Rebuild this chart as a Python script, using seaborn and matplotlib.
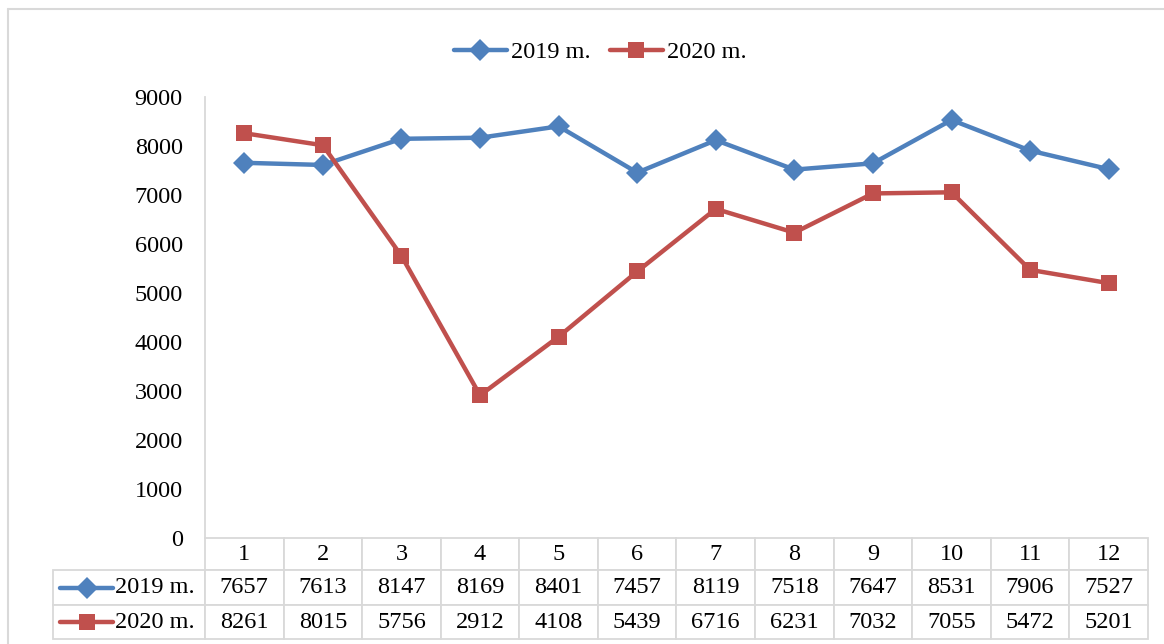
import pandas as pd
import seaborn as sns
import matplotlib.pyplot as plt
from matplotlib.table import Table
from matplotlib.lines import Line2D

sns.set_theme(style="white")
plt.rcParams['font.family'] = ['Liberation Serif', 'DejaVu Serif']
plt.rcParams['text.color'] = 'black'
plt.rcParams['ytick.color'] = 'black'
plt.rcParams['xtick.color'] = 'black'

# Data
months = [1, 2, 3, 4, 5, 6, 7, 8, 9, 10, 11, 12]
series_names = ["2019 m.", "2020 m."]
vals_2019 = [7657, 7613, 8147, 8169, 8401, 7457, 8119, 7518, 7647, 8531, 7906, 7527]
vals_2020 = [8261, 8015, 5756, 2912, 4108, 5439, 6716, 6231, 7032, 7055, 5472, 5201]
y_ticks = [0, 1000, 2000, 3000, 4000, 5000, 6000, 7000, 8000, 9000]

colors = {"2019 m.": "#4f81bd", "2020 m.": "#c0504d"}
markers = {"2019 m.": "D", "2020 m.": "s"}
grid_col = "#d9d9d9"
fs = 17.5
lw = 3.2
ms = 11.5

df = pd.DataFrame({
    "month": months * 2,
    "value": vals_2019 + vals_2020,
    "series": [series_names[0]] * 12 + [series_names[1]] * 12,
})

W, H = 1164, 644
fig = plt.figure(figsize=(W / 100, H / 100), dpi=100)
ax = fig.add_axes([205 / W, (H - 538) / H, 943 / W, 441 / H])

sns.lineplot(data=df, x="month", y="value", hue="series", style="series",
             palette=colors, markers=markers, dashes=False, linewidth=lw,
             markersize=ms, markeredgewidth=0, ax=ax)

ax.set_xlim(0.5, 12.5)
ax.set_ylim(0, 9000)
ax.set_yticks(y_ticks)
ax.set_yticklabels([str(t) for t in y_ticks], fontsize=fs, color="black")
ax.set_xticks([])
ax.set(xlabel="", ylabel="")
ax.tick_params(axis="y", length=0, pad=16)
for s in ["top", "right", "bottom"]:
    ax.spines[s].set_visible(False)
ax.spines["left"].set_color(grid_col)
ax.spines["left"].set_linewidth(1.3)

# legend on top
h, l = ax.get_legend_handles_labels()
leg = ax.legend(h, l, loc="center", bbox_to_anchor=(600 / W, 1 - 52 / H),
                bbox_transform=fig.transFigure, ncol=2, frameon=False,
                fontsize=fs, handlelength=2.2, handletextpad=0.15,
                columnspacing=0.8)
for t in leg.get_texts():
    t.set_color("black")

# data table below the axis
x0 = (53 - 205) / 943
tw = (1148 - 53) / 943
row_h = [32, 35, 34]
th = sum(row_h) / 441
tb = Table(ax, bbox=[x0, -th, tw, th])
label_w = 152
col_w = (1148 - 205) / 12
rows = [[str(m) for m in months],
        [str(v) for v in vals_2019],
        [str(v) for v in vals_2020]]
labels = ["", series_names[0], series_names[1]]
for r in range(3):
    c = tb.add_cell(r, 0, width=label_w, height=row_h[r], text=labels[r], loc="right")
    c.PAD = 10 / label_w
    c.set_edgecolor(grid_col)
    c.set_linewidth(1.3)
    c.get_text().set_color("black")
    if r == 0:
        c.visible_edges = ""
    for j in range(12):
        c = tb.add_cell(r, j + 1, width=col_w, height=row_h[r], text=rows[r][j], loc="center")
        c.set_edgecolor(grid_col)
        c.set_linewidth(1.3)
        c.get_text().set_color("black")
tb.auto_set_font_size(False)
tb.set_fontsize(fs)
ax.add_table(tb)

# series keys inside the table's label column
for i, name in enumerate(series_names):
    yc = -(sum(row_h[:i + 1]) + row_h[i + 1] / 2) / 441
    ax.add_line(Line2D([(60 - 205) / 943, (113 - 205) / 943], [yc, yc],
                       transform=ax.transAxes, color=colors[name], lw=lw,
                       clip_on=False))
    ax.add_line(Line2D([(86.5 - 205) / 943], [yc], transform=ax.transAxes,
                       marker=markers[name], markersize=ms, markeredgewidth=0,
                       color=colors[name], clip_on=False))

# outer chart frame (top and left visible)
fig.add_artist(Line2D([8 / W, 8 / W], [0, 1 - 9 / H], color=grid_col, lw=1.5))
fig.add_artist(Line2D([8 / W, 1], [1 - 9 / H, 1 - 9 / H], color=grid_col, lw=1.5))

fig.savefig("out.png", dpi=100)
